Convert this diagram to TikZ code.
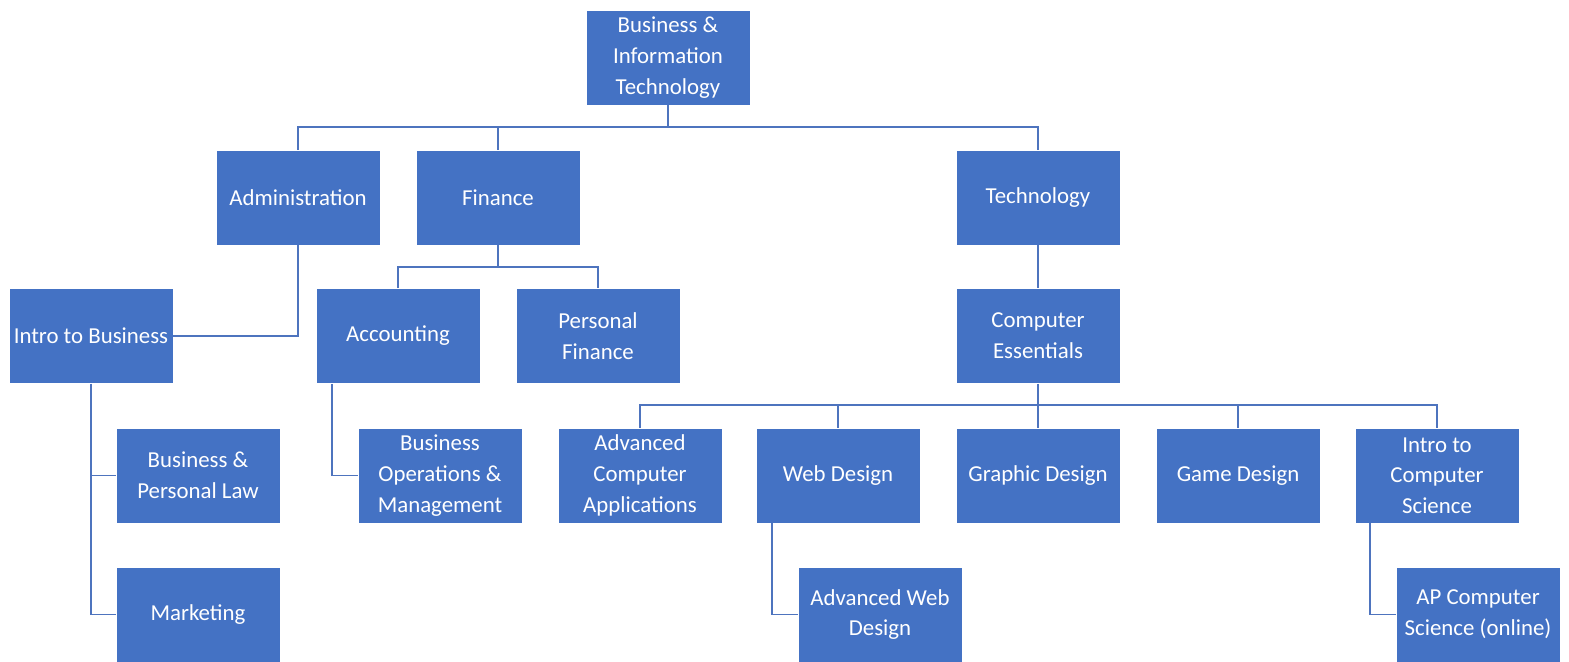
\documentclass[tikz,border=0pt]{standalone}
\usepackage{fontspec}
\setmainfont{Carlito}
\definecolor{boxblue}{RGB}{68,114,196}
\definecolor{lineblue}{RGB}{78,116,190}

\begin{document}
\begin{tikzpicture}[x=0.02cm, y=-0.02cm,
  box/.style={fill=boxblue, draw=white, line width=0.4pt, text=white,
    minimum width=3.28cm, minimum height=1.9cm, inner sep=0pt, align=center,
    font=\fontsize{13}{17.5}\selectfont},
  link/.style={draw=lineblue, line width=1pt}]
%\draw [help lines] (0,0) grid (1569,662);
\useasboundingbox (0,0) rectangle (1569,662);

\node [box] (root) at (668,57.5) {Business \&\\Information\\Technology};

\node [box] (admin) at (298,197.5) {Administration};
\node [box] (fin) at (498,197.5) {Finance};
\node [box] (tech) at (1038,197.5) {Technology};

\node [box] (intro) at (91,336) {Intro to Business};
\node [box] (acct) at (398,336) {Accounting};
\node [box] (pfin) at (598,336) {Personal\\Finance};
\node [box] (ess) at (1038,336) {Computer\\Essentials};

\node [box] (law) at (198,475.5) {Business \&\\Personal Law};
\node [box] (ops) at (440,475.5) {Business\\Operations \&\\Management};
\node [box] (aca) at (640,475.5) {Advanced\\Computer\\Applications};
\node [box] (web) at (838,475.5) {Web Design};
\node [box] (gfx) at (1038,475.5) {Graphic Design};
\node [box] (game) at (1238,475.5) {Game Design};
\node [box] (ics) at (1437,475.5) {Intro to\\Computer\\Science};

\node [box] (mkt) at (198,614.5) {Marketing};
\node [box] (aweb) at (880,614.5) {Advanced Web\\Design};
\node [box] (apcs) at (1478,614.5) {AP Computer\\Science (online)};

% branch points
\coordinate (topbus) at (668,127);
\coordinate (finbus) at (498,267);
\coordinate (essbus) at (1038,405);

\draw [link] (root) -- (topbus);
\draw [link] (admin.north) |- (topbus) -| (tech.north);
\draw [link] (fin.north) -- (fin.north |- topbus);

\draw [link] (admin.south) |- (intro.east);
\draw [link] (intro.south) |- (law.west);
\draw [link] (intro.south) |- (mkt.west);

\draw [link] (fin) -- (finbus);
\draw [link] (acct.north) |- (finbus) -| (pfin.north);
\draw [link] ([xshift=0.32cm]acct.south west) |- (ops.west);

\draw [link] (tech) -- (ess);
\draw [link] (ess) -- (essbus);
\draw [link] (aca.north) |- (essbus) -| (ics.north);
\draw [link] (web.north) -- (web.north |- essbus);
\draw [link] (gfx.north) -- (gfx.north |- essbus);
\draw [link] (game.north) -- (game.north |- essbus);
\draw [link] ([xshift=0.32cm]web.south west) |- (aweb.west);
\draw [link] ([xshift=0.3cm]ics.south west) |- (apcs.west);

\end{tikzpicture}
\end{document}
